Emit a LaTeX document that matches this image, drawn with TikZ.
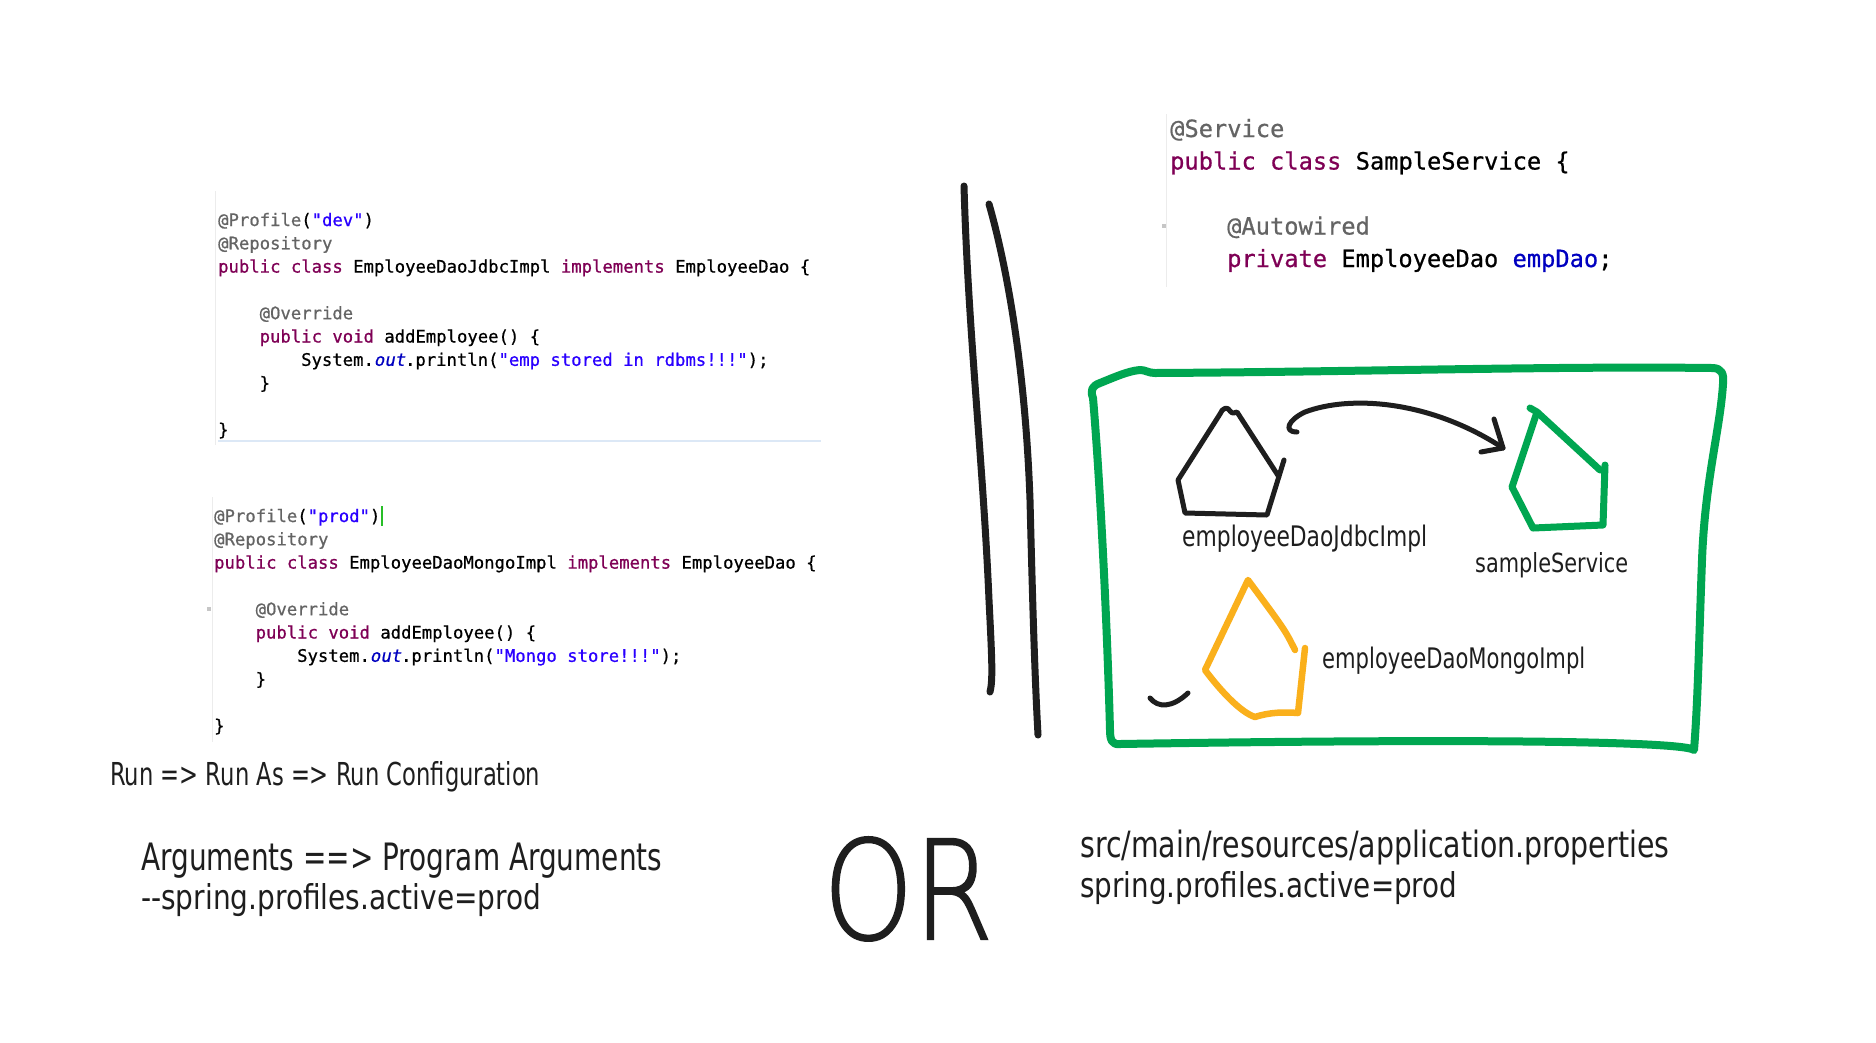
\documentclass[tikz,border=0pt]{standalone}
\usepackage{fontspec}
\usepackage{graphicx}
\newfontfamily\codefont{DejaVu Sans Mono}[FakeBold=0.7]
\newfontfamily\codeslant{DejaVu Sans Mono}[FakeSlant=0.2,FakeBold=0.7]
\newfontfamily\handfont{DejaVu Sans}
\newfontfamily\bigletters{DejaVu Sans ExtraLight}[FakeBold=1.5]

\definecolor{ann}{RGB}{100,100,100}
\definecolor{kw}{RGB}{127,0,85}
\definecolor{str}{RGB}{42,0,255}
\definecolor{fld}{RGB}{0,0,192}
\definecolor{ink}{RGB}{30,30,30}
\definecolor{boxgreen}{RGB}{0,166,81}
\definecolor{penorange}{RGB}{250,176,28}
\definecolor{gutter}{RGB}{236,236,236}
\definecolor{curline}{RGB}{220,232,246}
\definecolor{caret}{RGB}{40,190,40}

% hand lettering squeezed into a given width and height
\newcommand\hw[3]{\resizebox{#1}{#2}{\handfont #3}}

\tikzset{
  codesm/.style={anchor=base west, inner sep=0pt, text=black,
    font=\codefont\fontsize{17.25}{20}\selectfont},
  codelg/.style={anchor=base west, inner sep=0pt, text=black,
    font=\codefont\fontsize{23.7}{28}\selectfont},
  hand/.style={anchor=base west, inner sep=0pt, text=ink},
  pen/.style={line cap=round, line join=round},
  inkpen/.style={pen, draw=ink, line width=5pt},
  barpen/.style={pen, draw=ink, line width=7pt},
  greenbox/.style={pen, draw=boxgreen, line width=8pt},
  svcpen/.style={pen, draw=boxgreen, line width=7pt},
  orangepen/.style={pen, draw=penorange, line width=6.5pt},
  gutterline/.style={draw=gutter, line width=1pt},
}

\begin{document}
\begin{tikzpicture}[x=1pt,y=-1pt]
\useasboundingbox[fill=white] (0,0) rectangle (1876,1042);

% ---------- EmployeeDaoJdbcImpl listing ----------
\draw[gutterline] (215,191) -- (215,445);
\draw[draw=curline, line width=1.5pt] (218,441) -- (821,441);
\node[codesm] (dProfile) at (218,226) {\textcolor{ann}{@Profile}(\textcolor{str}{"dev"})};
\node[codesm] (dRepo) at (218,249.3) {\textcolor{ann}{@Repository}};
\node[codesm] (dClass) at (218,272.6) {\textcolor{kw}{public class} EmployeeDaoJdbcImpl \textcolor{kw}{implements} EmployeeDao \{};
\node[codesm] (dOverride) at (259.5,319.2) {\textcolor{ann}{@Override}};
\node[codesm] (dMethod) at (259.5,342.5) {\textcolor{kw}{public void} addEmployee() \{};
\node[codesm] (dPrint) at (301,365.8) {System.{\color{fld}\codeslant out}.println(\textcolor{str}{"emp stored in rdbms!!!"});};
\node[codesm] (dEndMethod) at (259.5,389.1) {\}};
\node[codesm] (dEndClass) at (218,435.7) {\}};

% ---------- EmployeeDaoMongoImpl listing ----------
\draw[gutterline] (212,497) -- (212,742);
\node[codesm] (mProfile) at (214,522) {\textcolor{ann}{@Profile}(\textcolor{str}{"prod"})};
\draw[draw=caret, line width=1.3pt] (382,506) -- (382,526);
\node[codesm] (mRepo) at (214,545.3) {\textcolor{ann}{@Repository}};
\node[codesm] (mClass) at (214,568.6) {\textcolor{kw}{public class} EmployeeDaoMongoImpl \textcolor{kw}{implements} EmployeeDao \{};
\fill[gray!45] (207,607) rectangle (211,611);
\node[codesm] (mOverride) at (255.5,615.2) {\textcolor{ann}{@Override}};
\node[codesm] (mMethod) at (255.5,638.5) {\textcolor{kw}{public void} addEmployee() \{};
\node[codesm] (mPrint) at (297,661.8) {System.{\color{fld}\codeslant out}.println(\textcolor{str}{"Mongo store!!!"});};
\node[codesm] (mEndMethod) at (255.5,685.1) {\}};
\node[codesm] (mEndClass) at (214,731.7) {\}};

% ---------- SampleService listing ----------
\draw[gutterline] (1166,114) -- (1166,287);
\fill[gray!45] (1162,224) rectangle (1166,228);
\node[codelg] (sAnn) at (1170,137) {\textcolor{ann}{@Service}};
\node[codelg] (sClass) at (1170,169.5) {\textcolor{kw}{public class} SampleService \{};
\node[codelg] (sAuto) at (1227,234.5) {\textcolor{ann}{@Autowired}};
\node[codelg] (sField) at (1227,267) {\textcolor{kw}{private} EmployeeDao \textcolor{fld}{empDao};};

% ---------- double stroke separator ----------
\draw[barpen] (964,186) .. controls (968,330) and (983,460) .. (989,600) .. controls (992,660) and (993,680) .. (990,692);
\draw[barpen] (989,204) .. controls (1005,260) and (1025,360) .. (1030,500) .. controls (1033,620) and (1035,680) .. (1038,735);

% ---------- container ----------
\draw[greenbox] (1093,398) .. controls (1090,390) and (1092,386) .. (1100,383)
  .. controls (1115,377) and (1128,371) .. (1140,370)
  .. controls (1146,370) and (1148,373) .. (1155,373)
  .. controls (1350,372) and (1550,366) .. (1712,368)
  .. controls (1722,368) and (1724,374) .. (1723,384)
  .. controls (1720,430) and (1705,480) .. (1702,560)
  .. controls (1699,640) and (1698,700) .. (1694,750)
  .. controls (1685,742) and (1500,738) .. (1120,744)
  .. controls (1112,745) and (1110,740) .. (1110,730)
  .. controls (1107,620) and (1100,480) .. (1093,398);

% employeeDaoJdbcImpl bean
\draw[inkpen] (1284,460) -- (1267,515) -- (1185,513) -- (1178,480) -- (1220,414)
  .. controls (1222,408) and (1228,406) .. (1230,411)
  .. controls (1232,414) and (1235,413) .. (1237,412) -- (1279,477);
\node[hand] (lblJdbc) at (1182,546) {\hw{245pt}{21.5pt}{employeeDaoJdbcImpl}};

% sampleService bean
\draw[svcpen] (1530,408) -- (1537,412) -- (1600,470);
\draw[svcpen] (1605,465) -- (1603,525) -- (1533,528) -- (1512,487) -- (1536,415);
\node[hand] (lblSvc) at (1475,572) {\hw{153pt}{20pt}{sampleService}};

% injection arrow
\coordinate (arrowFrom) at (1297,432);
\coordinate (arrowTo) at (1503,448);
\draw[inkpen] (arrowFrom) .. controls (1283,432) and (1288,420) .. (1305,412)
  .. controls (1350,395) and (1430,400) .. (arrowTo);
\draw[inkpen] (1494,419) -- (arrowTo) -- (1481,452);

% employeeDaoMongoImpl bean
\draw[orangepen] (1295,650) .. controls (1285,630) .. (1248,580) -- (1205,670)
  .. controls (1220,690) and (1240,712) .. (1255,717)
  .. controls (1270,712) and (1285,712) .. (1298,713) -- (1305,648);
\node[hand] (lblMongo) at (1322,668) {\hw{263pt}{21.5pt}{employeeDaoMongoImpl}};
\draw[inkpen] (1150,698) .. controls (1158,708) and (1172,708) .. (1188,693);

% ---------- notes ----------
\node[hand] (runPath) at (110,785) {\hw{430pt}{24pt}{Run => Run As => Run Configuration}};
\node[hand] (argsPath) at (141,870) {\hw{521pt}{27.5pt}{Arguments ==> Program Arguments}};
\node[hand] (argsValue) at (141,909) {\hw{400pt}{26pt}{-{}-spring.profiles.active=prod}};
\node[hand] (orWord) at (823,939) {\resizebox{170pt}{102pt}{\bigletters OR}};
\node[hand] (propsFile) at (1080,857) {\hw{589pt}{27.5pt}{src/main/resources/application.properties}};
\node[hand] (propsValue) at (1080,897) {\hw{377pt}{26pt}{spring.profiles.active=prod}};

\end{tikzpicture}
\end{document}
